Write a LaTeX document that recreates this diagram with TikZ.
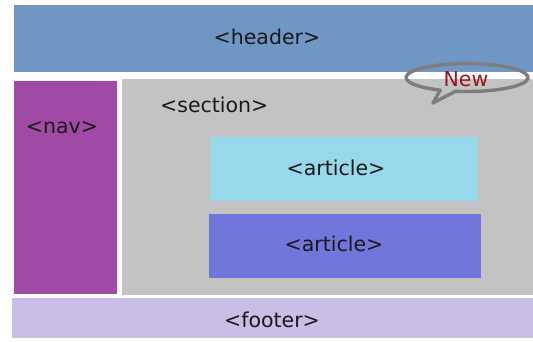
\documentclass[tikz,border=0pt]{standalone}
\usepackage{fontspec}
\setmainfont{DejaVu Sans}
\begin{document}
\begin{tikzpicture}[x=1pt,y=-1pt,
  box/.style={draw=none,rectangle,inner sep=0pt,anchor=north west},
  lbl/.style={font=\fontsize{20.5}{24}\selectfont,text=black!90,inner sep=0pt}]
\definecolor{hdr}{RGB}{112,150,196}
\definecolor{navc}{RGB}{160,74,166}
\definecolor{secc}{RGB}{195,195,195}
\definecolor{art1}{RGB}{151,217,234}
\definecolor{art2}{RGB}{112,118,218}
\definecolor{ftr}{RGB}{200,190,230}
\definecolor{newc}{RGB}{150,20,30}
\definecolor{bub}{RGB}{125,125,125}
\useasboundingbox[fill=white] (0,0) rectangle (533,341);
\node[box,fill=hdr,minimum width=519pt,minimum height=67pt] (header) at (14,5) {};
\node[lbl] (headert) at (267,37) {<header>};
\node[box,fill=navc,minimum width=103pt,minimum height=213pt] (nav) at (14,81) {};
\node[lbl] (navt) at (62,128) {<nav>};
\node[box,fill=secc,minimum width=411pt,minimum height=216pt] (section) at (122,79) {};
\node[lbl,anchor=west] (sectiont) at (160,105) {<section>};
\node[box,fill=art1,minimum width=268pt,minimum height=64pt] (article1) at (210,137) {};
\node[lbl] (article1t) at (336,168) {<article>};
\node[box,fill=art2,minimum width=272pt,minimum height=64pt] (article2) at (209,214) {};
\node[lbl] (article2t) at (334,244) {<article>};
\node[box,fill=ftr,minimum width=521pt,minimum height=40pt] (footer) at (12,298) {};
\node[lbl] (footert) at (272,320) {<footer>};
% speech bubble
\coordinate (ts) at (440.3,90.1);
\coordinate (tip) at (433,103);
\draw[bub,line width=3.4pt,line join=round,line cap=round]
  (ts) arc[start angle=116,end angle=461,x radius=61,y radius=14] coordinate (te)
  -- (tip) -- (ts);
\node[lbl,text=newc] (newt) at (466,79) {New};
\end{tikzpicture}
\end{document}
